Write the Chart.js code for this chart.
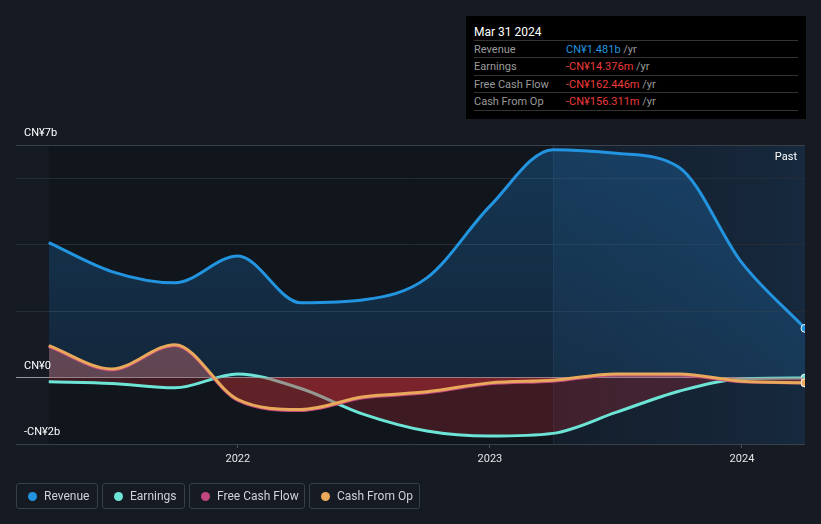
<!DOCTYPE html>
<html>
<head>
<meta charset="utf-8">
<script src="https://cdn.jsdelivr.net/npm/chart.js@4.4.1/dist/chart.umd.min.js"></script>
<style>
  html, body { margin: 0; padding: 0; background: #151a23; }
  body { width: 821px; height: 524px; position: relative; overflow: hidden; font-family: Roboto, "Noto Sans", sans-serif; }
  #wrap { position: absolute; left: 0; top: 0; width: 821px; height: 524px; }
  #tip { position: absolute; left: 466px; top: 16px; width: 340px; height: 103px; background: #000; }
  #tip .title { position: absolute; left: 8px; top: 9px; color: #fff; font-size: 12px; }
  #tip .row { position: absolute; left: 8px; width: 324px; height: 17px; border-top: 1px solid #333; font-size: 11px; line-height: 17px; color: #9a9a9a; }
  #tip .row span.v { position: absolute; left: 92px; }
  #tip .hr { position: absolute; left: 8px; width: 324px; top: 94px; border-top: 1px solid #333; }
  .legend { position: absolute; top: 483px; border: 1px solid #3a404a; border-radius: 3px; color: #cfd2d6; font-size: 12px; line-height: 24px; box-sizing: border-box; height: 26px; }
  .legend i { position: absolute; left: 11px; top: 8px; width: 9px; height: 9px; border-radius: 50%; }
  .legend span { position: absolute; left: 27px; }
</style>
</head>
<body>
<div id="wrap"><canvas id="chart" width="821" height="524"></canvas></div>

<div id="tip">
  <div class="title">Mar 31 2024</div>
  <div class="row" style="top:24px">Revenue<span class="v"><b style="font-weight:normal;color:#2394df">CN¥1.481b</b> /yr</span></div>
  <div class="row" style="top:41px">Earnings<span class="v"><b style="font-weight:normal;color:#ee3b3b">-CN¥14.376m</b> /yr</span></div>
  <div class="row" style="top:59px">Free Cash Flow<span class="v"><b style="font-weight:normal;color:#ee3b3b">-CN¥162.446m</b> /yr</span></div>
  <div class="row" style="top:76px">Cash From Op<span class="v"><b style="font-weight:normal;color:#ee3b3b">-CN¥156.311m</b> /yr</span></div>
  <div class="hr"></div>
</div>

<div class="legend" style="left:16px;width:82px"><i style="background:#2394df"></i><span>Revenue</span></div>
<div class="legend" style="left:102px;width:83px"><i style="background:#6ce5d6"></i><span>Earnings</span></div>
<div class="legend" style="left:189px;width:116px"><i style="background:#c2477f"></i><span>Free Cash Flow</span></div>
<div class="legend" style="left:309px;width:111px"><i style="background:#e8a95b"></i><span>Cash From Op</span></div>

<script>
// quarter ends, as decimal years (Mar 2021 .. Mar 2024)
const periods = [2021.25, 2021.5, 2021.75, 2022.0, 2022.25, 2022.5, 2022.75, 2023.0, 2023.25, 2023.5, 2023.75, 2024.0, 2024.25];
// values in CN¥ billions
const revenue = [4.06, 3.19, 2.85, 3.66, 2.25, 2.34, 3.0, 5.16, 6.86, 6.75, 6.33, 3.45, 1.481];
const earnings = [-0.13, -0.18, -0.31, 0.11, -0.33, -1.11, -1.61, -1.76, -1.68, -1.05, -0.41, -0.04, -0.014];
const freeCashFlow = [0.93, 0.23, 0.96, -0.69, -0.99, -0.61, -0.46, -0.19, -0.11, 0.08, 0.08, -0.13, -0.162];
const cashFromOp = [0.96, 0.26, 0.99, -0.66, -0.96, -0.58, -0.43, -0.16, -0.08, 0.11, 0.11, -0.11, -0.156];

const yearTicks = [2022, 2023, 2024];
const yGrid = [-2, 0, 2, 4, 6, 7];
const yLabels = { 7: 'CN¥7b', 0: 'CN¥0', '-2': '-CN¥2b' };
const pastStart = 2023.25;

function pts(vals) {
  return vals.map((v, i) => ({ x: periods[i], y: v }));
}
function lastDot(ctx) {
  return ctx.dataIndex === periods.length - 1 ? 4 : 0;
}

const backdrop = {
  id: 'backdrop',
  beforeDraw(chart) {
    const { ctx, chartArea, scales } = chart;
    const x0 = scales.x.getPixelForValue(periods[0]);
    const xp = scales.x.getPixelForValue(pastStart);
    const x1 = scales.x.getPixelForValue(periods[periods.length - 1]);
    ctx.save();
    ctx.fillStyle = 'rgba(0,0,0,0.18)';
    ctx.fillRect(x0, chartArea.top, xp - x0, chartArea.bottom - chartArea.top);
    const g = ctx.createLinearGradient(xp, 0, x1, 0);
    g.addColorStop(0, 'rgba(20,40,60,0.35)');
    g.addColorStop(1, 'rgba(25,60,95,0.45)');
    ctx.fillStyle = g;
    ctx.fillRect(xp, chartArea.top, x1 - xp, chartArea.bottom - chartArea.top);
    ctx.restore();
  },
  beforeDatasetsDraw(chart) {
    const { ctx, chartArea, scales } = chart;
    const xp = scales.x.getPixelForValue(pastStart);
    ctx.save();
    ctx.strokeStyle = 'rgba(255,255,255,0.05)';
    ctx.lineWidth = 1;
    ctx.beginPath();
    ctx.moveTo(Math.round(xp) + 0.5, chartArea.top);
    ctx.lineTo(Math.round(xp) + 0.5, chartArea.bottom);
    ctx.stroke();
    ctx.restore();
  },
  afterDraw(chart) {
    const { ctx, chartArea, scales } = chart;
    ctx.save();
    ctx.font = '11px Roboto, sans-serif';
    ctx.fillStyle = '#ffffff';
    ctx.textBaseline = 'alphabetic';
    ctx.textAlign = 'left';
    Object.keys(yLabels).forEach(k => {
      const y = scales.y.getPixelForValue(Number(k));
      ctx.fillText(yLabels[k], 24, y - 9);
    });
    ctx.textAlign = 'right';
    ctx.fillText('Past', chartArea.right - 8, chartArea.top + 15);
    ctx.restore();
  }
};

const ctx = document.getElementById('chart').getContext('2d');

new Chart(ctx, {
  type: 'line',
  data: {
    datasets: [
      {
        label: 'Cash From Op',
        data: pts(cashFromOp),
        borderColor: '#e8a95b',
        borderWidth: 3,
        fill: false,
        pointRadius: lastDot,
        pointBackgroundColor: '#e8a95b',
        pointBorderColor: '#f4f4f4',
        pointBorderWidth: 1,
        cubicInterpolationMode: 'monotone',
        order: 0
      },
      {
        label: 'Free Cash Flow',
        data: pts(freeCashFlow),
        borderColor: '#c2477f',
        borderWidth: 3,
        fill: { target: 'origin', above: 'rgba(205,115,115,0.42)', below: 'rgba(205,50,55,0.42)' },
        pointRadius: lastDot,
        pointBackgroundColor: '#c2477f',
        pointBorderColor: '#f4f4f4',
        pointBorderWidth: 1,
        cubicInterpolationMode: 'monotone',
        order: 1
      },
      {
        label: 'Earnings',
        data: pts(earnings),
        borderColor: '#6ce5d6',
        borderWidth: 3,
        fill: { target: 'origin', above: 'rgba(0,0,0,0)', below: 'rgba(200,40,50,0.25)' },
        pointRadius: lastDot,
        pointBackgroundColor: '#6ce5d6',
        pointBorderColor: '#f4f4f4',
        pointBorderWidth: 1,
        cubicInterpolationMode: 'monotone',
        order: 2
      },
      {
        label: 'Revenue',
        data: pts(revenue),
        borderColor: '#2394df',
        borderWidth: 3,
        fill: 'origin',
        backgroundColor: function(c) {
          const area = c.chart.chartArea;
          if (!area) return 'rgba(33,150,243,0.2)';
          const g = c.chart.ctx.createLinearGradient(0, area.top, 0, c.chart.scales.y.getPixelForValue(0));
          g.addColorStop(0, 'rgba(33,150,243,0.26)');
          g.addColorStop(1, 'rgba(33,150,243,0.14)');
          return g;
        },
        pointRadius: lastDot,
        pointBackgroundColor: '#2394df',
        pointBorderColor: '#f4f4f4',
        pointBorderWidth: 1,
        cubicInterpolationMode: 'monotone',
        order: 3
      }
    ]
  },
  options: {
    responsive: false,
    animation: false,
    events: [],
    layout: {
      padding: { left: 16, right: 16, top: 145, bottom: 50 }
    },
    scales: {
      x: {
        type: 'linear',
        min: 2021.12,
        max: 2024.25,
        afterBuildTicks: s => { s.ticks = yearTicks.map(v => ({ value: v })); },
        afterFit: s => { s.height = 30; },
        ticks: {
          color: '#e6e6e6',
          font: { family: 'Roboto', size: 11 },
          padding: 5,
          maxRotation: 0,
          callback: v => String(v)
        },
        grid: {
          drawOnChartArea: false,
          tickLength: 4,
          color: '#4a505a'
        },
        border: { display: false }
      },
      y: {
        min: -2,
        max: 7,
        afterBuildTicks: s => { s.ticks = yGrid.map(v => ({ value: v })); },
        afterFit: s => { s.width = 0; },
        ticks: { display: false },
        grid: {
          drawTicks: false,
          lineWidth: 1,
          color: c => {
            const v = c.tick && c.tick.value;
            if (v === 0) return 'rgba(255,255,255,0.55)';
            if (v === 7 || v === -2) return '#3b414b';
            return '#262c36';
          }
        },
        border: { display: false }
      }
    },
    plugins: {
      legend: { display: false },
      tooltip: { enabled: false }
    }
  },
  plugins: [backdrop]
});
</script>
</body>
</html>
